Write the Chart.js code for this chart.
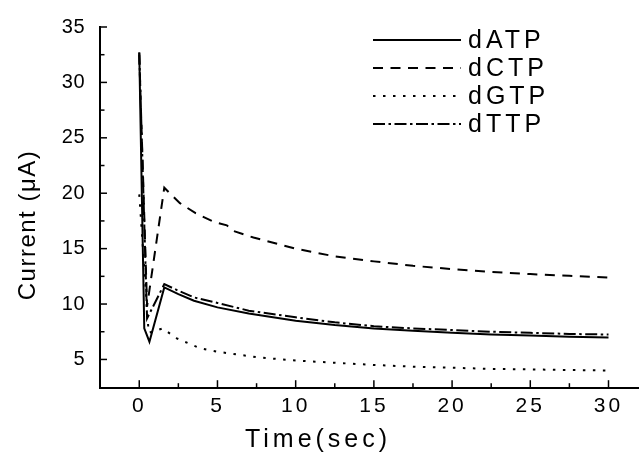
<!DOCTYPE html>
<html>
<head>
<meta charset="utf-8">
<script src="https://cdn.jsdelivr.net/npm/chart.js@4.4.0/dist/chart.umd.min.js"></script>
<style>
html,body{margin:0;padding:0;background:#fff;}
#wrap{width:639px;height:458px;position:relative;}
canvas{display:block;}
</style>
</head>
<body>
<div id="wrap"><canvas id="c" width="639" height="458"></canvas></div>
<script>
// ---- data ----
const seriesNames = ['dATP', 'dCTP', 'dGTP', 'dTTP'];

const timeATP = [0, 0.32, 0.65, 1.6, 2.5, 3.5, 5, 7, 10, 12.5, 15, 17.5, 20, 22.5, 25, 27.5, 30];
const dATP    = [32.7, 7.8, 6.6, 11.5, 10.9, 10.3, 9.7, 9.15, 8.5, 8.1, 7.8, 7.6, 7.4, 7.25, 7.15, 7.05, 6.97];

const timeCTP = [0, 0.5, 1.6, 2.6, 3.6, 4.8, 5.6, 6.0, 7.3, 10, 12.5, 15, 17.5, 20, 22.5, 25, 27.5, 30];
const dCTP    = [32.5, 9.8, 20.5, 19.1, 18.2, 17.4, 17.1, 16.6, 16.0, 15.0, 14.3, 13.85, 13.45, 13.15, 12.9, 12.7, 12.55, 12.4];

const timeGTP = [0, 0.6, 1.5, 2.4, 3.9, 5, 7.5, 10, 12.5, 15, 17.5, 20, 22.5, 25, 27.5, 30];
const dGTP    = [19.9, 7.4, 7.8, 6.9, 6.0, 5.7, 5.2, 4.9, 4.7, 4.5, 4.35, 4.25, 4.15, 4.1, 4.05, 4.0];

const timeTTP = [0, 0.5, 1.6, 2.5, 3.5, 5, 7, 10, 12.5, 15, 17.5, 20, 22.5, 25, 27.5, 30];
const dTTP    = [32.7, 8.7, 11.8, 11.2, 10.6, 10.1, 9.4, 8.8, 8.35, 8.0, 7.8, 7.65, 7.5, 7.4, 7.3, 7.25];

const xTickValues = [0, 2.5, 5, 7.5, 10, 12.5, 15, 17.5, 20, 22.5, 25, 27.5, 30];
const xTickLabels = ['0', '5', '10', '15', '20', '25', '30'];
const yTickValues = [5, 7.5, 10, 12.5, 15, 17.5, 20, 22.5, 25, 27.5, 30, 32.5, 35];
const yTickLabels = ['5', '10', '15', '20', '25', '30', '35'];

const xTitle = 'Time(sec)';
const yTitle = 'Current (\u03BCA)';

// ---- build ----
function pts(t, v) { return t.map((x, i) => ({ x: x, y: v[i] })); }
const dashes = [[], [10, 7.5], [2.5, 7.5], [12, 3.5, 2.5, 3.5]];
const seriesData = [pts(timeATP, dATP), pts(timeCTP, dCTP), pts(timeGTP, dGTP), pts(timeTTP, dTTP)];

Chart.defaults.font.family = "'Liberation Sans', Arial, sans-serif";
Chart.defaults.color = '#000';

// letter spacing for tick labels
const SP = Chart.Scale.prototype;
if (typeof SP.drawLabels === 'function') {
  const origDL = SP.drawLabels;
  SP.drawLabels = function (area) {
    const c = this.ctx;
    c.save();
    try { c.letterSpacing = this.axis === 'x' ? '3px' : '0.5px'; } catch (e) {}
    origDL.call(this, area);
    c.restore();
  };
}

const decor = {
  id: 'decor',
  afterDraw(chart) {
    const { ctx, chartArea } = chart;
    const xs = chart.scales.x, ys = chart.scales.y;
    ctx.save();
    ctx.strokeStyle = '#000';
    ctx.lineWidth = 1.5;
    // inward tick marks
    xs.ticks.forEach(t => {
      const px = xs.getPixelForValue(t.value);
      const len = Math.abs(t.value % 5) < 1e-6 ? 7.5 : 4.5;
      ctx.beginPath(); ctx.moveTo(px, chartArea.bottom); ctx.lineTo(px, chartArea.bottom - len); ctx.stroke();
    });
    ys.ticks.forEach(t => {
      const py = ys.getPixelForValue(t.value);
      const len = Math.abs(t.value % 5) < 1e-6 ? 7 : 4.5;
      ctx.beginPath(); ctx.moveTo(chartArea.left, py); ctx.lineTo(chartArea.left + len, py); ctx.stroke();
    });
    // axis titles
    ctx.fillStyle = '#000';
    ctx.textAlign = 'center';
    ctx.textBaseline = 'middle';
    ctx.font = "25px 'Liberation Sans', Arial, sans-serif";
    try { ctx.letterSpacing = '4px'; } catch (e) {}
    ctx.fillText(xTitle, 318, 440);
    ctx.save();
    ctx.translate(28, 225);
    ctx.rotate(-Math.PI / 2);
    ctx.font = "24px 'Liberation Sans', Arial, sans-serif";
    try { ctx.letterSpacing = '1.5px'; } catch (e) {}
    ctx.fillText(yTitle, 0, 0);
    ctx.restore();
    // legend
    const rows = [40, 68, 96, 124];
    chart.data.datasets.forEach((ds, i) => {
      const y = rows[i];
      ctx.save();
      ctx.lineWidth = 2;
      ctx.setLineDash(ds.borderDash || []);
      ctx.beginPath(); ctx.moveTo(373, y); ctx.lineTo(461, y); ctx.stroke();
      ctx.restore();
      ctx.font = "25px 'Liberation Sans', Arial, sans-serif";
      ctx.textAlign = 'left';
      try { ctx.letterSpacing = '4px'; } catch (e) {}
      ctx.fillText(ds.label, 468, y + 1);
    });
    ctx.restore();
  }
};

new Chart(document.getElementById('c'), {
  type: 'line',
  data: {
    datasets: seriesNames.map((n, i) => ({
      label: n,
      data: seriesData[i],
      borderColor: '#000',
      backgroundColor: '#000',
      borderWidth: 2,
      borderDash: dashes[i],
      pointRadius: 0,
      fill: false,
      tension: 0
    }))
  },
  options: {
    responsive: false,
    animation: false,
    devicePixelRatio: 1,
    layout: { padding: { top: 25, right: 0, left: 0, bottom: 0 } },
    plugins: { legend: { display: false }, tooltip: { enabled: false }, title: { display: false } },
    scales: {
      x: {
        type: 'linear',
        min: -2.51,
        max: 31.95,
        afterBuildTicks: s => { s.ticks = xTickValues.map(v => ({ value: v })); },
        afterFit: s => { s.height = 458 - 387.7; },
        ticks: {
          autoSkip: false, maxRotation: 0, padding: 6, color: '#000',
          font: { size: 21 },
          callback: v => (Math.abs(v % 5) < 1e-6 ? xTickLabels[Math.round(v / 5)] : '')
        },
        grid: { display: false, drawTicks: false },
        border: { display: true, color: '#000', width: 2 }
      },
      y: {
        type: 'linear',
        min: 2.45,
        max: 35,
        afterBuildTicks: s => { s.ticks = yTickValues.map(v => ({ value: v })); },
        afterFit: s => { s.width = 100; },
        ticks: {
          autoSkip: false, padding: 15, color: '#000',
          font: { size: 20 },
          callback: v => (Math.abs(v % 5) < 1e-6 ? yTickLabels[Math.round(v / 5) - 1] : '')
        },
        grid: { display: false, drawTicks: false },
        border: { display: true, color: '#000', width: 2 }
      }
    }
  },
  plugins: [decor]
});
</script>
</body>
</html>
